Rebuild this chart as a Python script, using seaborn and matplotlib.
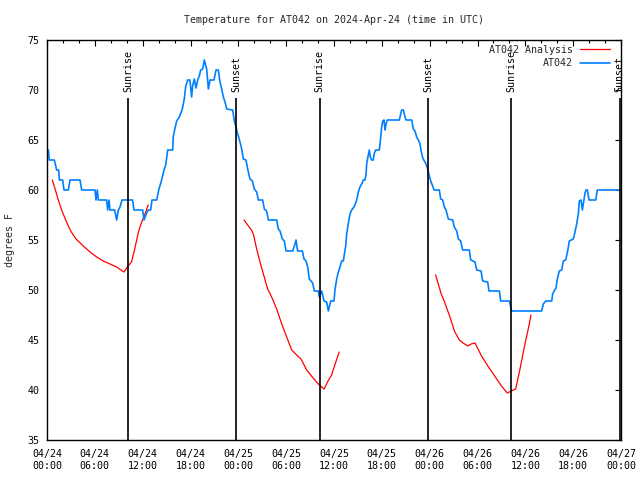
import numpy as np
import pandas as pd
import matplotlib
matplotlib.use("Agg")
import matplotlib.pyplot as plt
import matplotlib.dates as mdates
from matplotlib.lines import Line2D
import seaborn as sns

# ---------------- data ----------------
start = pd.Timestamp("2024-04-24 00:00")

obs_hours = [0.17, 0.29, 0.92, 1.21, 1.46, 1.55, 1.97, 2.13, 2.68, 2.89, 4.14, 4.35,
             6.02, 6.15, 6.31, 6.44, 7.48, 7.61, 7.78, 7.9, 8.49, 8.74, 8.95, 9.16,
             9.41, 10.74, 10.91, 12.0, 12.17, 12.5, 12.71, 13.0, 13.17, 13.76, 14.01,
             14.38, 14.68, 14.89, 15.14, 15.76, 15.85, 16.06, 16.27, 16.6, 16.97,
             17.22, 17.39, 17.63, 17.93, 18.14, 18.27, 18.48, 18.69, 18.9, 19.1,
             19.28, 19.53, 19.73, 20.03, 20.24, 20.45, 20.95, 21.2, 21.49, 21.7,
             21.91, 22.12, 22.33, 22.54, 23.29, 23.5, 23.71, 23.85, 24.0, 24.21,
             24.42, 24.63, 24.96, 25.17, 25.46, 25.76, 26.0, 26.3, 26.51, 27.05,
             27.26, 27.55, 27.76, 28.81, 29.02, 29.23, 29.52, 29.77, 29.98, 30.82,
             31.11, 31.23, 31.44, 32.03, 32.24, 32.49, 32.7, 32.9, 33.12, 33.33,
             33.53, 34.03, 34.16, 34.46, 34.75, 35.08, 35.29, 35.59, 36.0, 36.13,
             36.34, 36.54, 36.75, 36.97, 37.17, 37.3, 37.47, 37.59, 37.72, 37.88,
             38.09, 38.3, 38.51, 38.76, 38.93, 39.05, 39.26, 39.47, 39.68, 39.89,
             40.02, 40.1, 40.23, 40.43, 40.56, 40.73, 40.93, 41.06, 41.23, 41.69,
             41.77, 41.9, 41.98, 42.11, 42.27, 42.4, 42.52, 42.69, 44.19, 44.37,
             44.49, 44.7, 44.91, 45.03, 45.75, 45.95, 46.16, 46.37, 46.58, 46.79,
             46.91, 47.13, 47.33, 47.54, 47.75, 47.96, 48.17, 48.38, 48.54, 49.21,
             49.38, 49.63, 49.84, 50.05, 50.34, 50.89, 51.09, 51.39, 51.6, 51.89,
             52.14, 52.97, 53.15, 53.69, 53.9, 54.44, 54.65, 55.28, 55.44, 56.74,
             56.91, 57.99, 58.17, 58.29, 62.05, 62.26, 62.56, 63.31, 63.43, 63.6,
             63.85, 64.01, 64.26, 64.56, 64.77, 65.06, 65.31, 65.52, 66.02, 66.23,
             66.44, 66.65, 66.77, 66.98, 67.15, 67.27, 67.49, 67.61, 67.78, 67.99,
             68.83, 69.03, 71.75]
obs_temps = [64, 63, 63, 62, 62, 61, 61, 60, 60, 61, 61, 60,
             60, 59, 60, 59, 59, 58, 59, 58, 58, 57, 58, 58.3,
             59, 59, 58, 58, 57, 57.7, 58, 58, 59, 59, 60,
             61, 62, 62.5, 64, 64, 65.4, 66.2, 66.9, 67.3, 68.1,
             69.1, 70.3, 71, 71, 69.3, 70.4, 71.1, 70.2, 71, 71.4,
             72, 72.1, 73, 72.1, 70.1, 71, 71, 72, 72, 70.8,
             70.1, 69.3, 68.8, 68.1, 68, 66.9, 66.3, 65.8, 65.4, 64.8,
             64.1, 63.1, 63, 62.1, 61.1, 60.9, 60.1, 59.8, 59, 59,
             58.1, 57.9, 57, 57, 56.1, 55.9, 55.1, 54.9, 53.9, 53.9,
             54.6, 55, 53.9, 53.9, 53.1, 52.9, 52.3, 51.1, 50.9, 50.7,
             49.9, 49.9, 49.3, 49.9, 48.9, 48.8, 47.9, 48.9, 48.9, 50.1,
             51.1, 51.8, 52.3, 52.9, 52.9, 53.6, 54.4, 55.6, 56.3, 57.1,
             57.8, 58.1, 58.3, 58.8, 59.3, 59.8, 60.3, 60.6, 61, 61,
             61.6, 62.6, 63.2, 64, 63.3, 63, 63, 63.7, 64, 64,
             64.6, 65.6, 66.3, 66.9, 67, 66, 66.6, 67, 67, 67.6,
             68, 68, 67.3, 67, 67, 66.1, 65.9, 65.3, 65, 64.6,
             64, 63.2, 62.9, 62.6, 62.1, 61.4, 60.8, 60.4, 60, 60,
             59.1, 59, 58.3, 58, 57.1, 57, 56.3, 55.9, 55.1, 54.9,
             54, 54, 53, 52.8, 52, 51.9, 50.9, 50.8, 49.9, 49.9,
             48.9, 48.9, 48.3, 47.9, 47.9, 48.6, 48.9, 48.9, 49.6, 49.9,
             50.2, 51.1, 51.9, 52, 52.9, 53, 53.9, 54.9, 55.1, 55.8,
             56.6, 57.6, 58.9, 59, 58, 58.6, 59.7, 60, 60, 59,
             59, 60, 60]

ana1_hours = [0.67, 1.09, 1.5, 1.84, 2.34, 2.97, 3.64, 4.55, 5.4, 6.23, 7.06, 7.9,
              8.73, 9.65, 10.07, 10.6, 11.0, 11.5, 11.87, 12.15, 12.7]
ana1_temps = [61, 59.9, 58.8, 58, 57.0, 55.9, 55.1, 54.4, 53.8, 53.3, 52.9, 52.6,
              52.3, 51.8, 52.3, 52.8, 54.1, 55.9, 56.8, 57.3, 58.5]
ana2_hours = [24.72, 25.17, 25.65, 25.88, 26.3, 26.72, 27.14, 27.68, 28.18, 28.81,
              29.44, 30.07, 30.69, 31.19, 31.86, 32.57, 33.28, 34.03, 34.75, 35.25,
              35.7, 36.1, 36.65]
ana2_temps = [57, 56.5, 56, 55.6, 54.1, 52.8, 51.6, 50.1, 49.3, 48.1,
              46.6, 45.3, 44, 43.6, 43.1, 42, 41.3, 40.6, 40.1, 40.9,
              41.5, 42.5, 43.8]
ana3_hours = [48.75, 49.45, 49.87, 50.5, 51.1, 51.72, 52.2, 52.77, 53.2, 53.69,
              54.5, 55.3, 56.15, 57.0, 57.74, 58.25, 58.79, 59.33, 59.9, 60.5, 60.7]
ana3_temps = [51.5, 49.6, 48.8, 47.4, 45.9, 45, 44.7, 44.4, 44.6, 44.7,
              43.4, 42.4, 41.4, 40.4, 39.7, 39.9, 40.1, 42.1, 44.4, 46.6, 47.5]

event_names = ["Sunrise", "Sunset", "Sunrise", "Sunset", "Sunrise", "Sunset"]
event_hours = [10.2, 23.77, 34.2, 47.8, 58.2, 71.85]

y_ticks = [35, 40, 45, 50, 55, 60, 65, 70, 75]

series_names = ["AT042 Analysis", "AT042"]
series_colors = ["#ff0000", "#0080ff"]

# ---------------- figure ----------------
sns.set_style("white")
plt.rcParams["font.family"] = ["DejaVu Sans Mono"]
FS = 7.2

def to_time(h):
    return start + pd.to_timedelta(np.asarray(h, dtype=float), unit="h")

obs_df = pd.DataFrame({"time": to_time(obs_hours), "temp": obs_temps})
ana_df = pd.concat([
    pd.DataFrame({"time": to_time(h), "temp": t, "seg": i})
    for i, (h, t) in enumerate([(ana1_hours, ana1_temps),
                                 (ana2_hours, ana2_temps),
                                 (ana3_hours, ana3_temps)])
], ignore_index=True)

fig = plt.figure(figsize=(6.4, 4.8), dpi=100)
ax = fig.add_axes([47 / 640, 1 - 440 / 480, 574 / 640, 400 / 480])

sns.lineplot(data=ana_df, x="time", y="temp", units="seg", estimator=None,
             color=series_colors[0], lw=0.9, ax=ax, legend=False)
sns.lineplot(data=obs_df, x="time", y="temp", estimator=None,
             color=series_colors[1], lw=1.2, ax=ax, legend=False)

ev_times = to_time(event_hours)
ax.vlines(ev_times, 35, 69.15, color="black", lw=1.2, zorder=3)
for t, name in zip(ev_times, event_names):
    ax.text(t, 69.75, name, rotation=90, ha="center", va="bottom",
            fontsize=FS, color="black", clip_on=False)

ax.set_xlim(start, start + pd.Timedelta(hours=72))
ax.set_ylim(35, 75)
ax.set_yticks(y_ticks)
ax.xaxis.set_major_locator(mdates.HourLocator(byhour=[0, 6, 12, 18]))
ax.xaxis.set_minor_locator(mdates.HourLocator(byhour=list(range(0, 24, 2))))
ax.xaxis.set_major_formatter(mdates.DateFormatter("%m/%d\n%H:%M"))

ax.tick_params(which="both", direction="in", top=True, right=True,
               colors="black", labelsize=FS)
ax.tick_params(which="major", length=4.5, width=0.8)
ax.tick_params(which="minor", length=2.5, width=0.8)
ax.tick_params(axis="x", which="major", pad=6.5)
ax.tick_params(axis="y", which="major", pad=5.5)
for sp in ax.spines.values():
    sp.set_color("black")
    sp.set_linewidth(1.0)
    sp.set_visible(True)

ax.set_xlabel("")
ax.set_ylabel("degrees F", fontsize=FS)
ax.yaxis.set_label_coords(-0.056, 0.5)

fig.text(334 / 640, 1 - 20 / 480,
         "Temperature for AT042 on 2024-Apr-24 (time in UTC)",
         ha="center", va="center", fontsize=FS)

handles = [Line2D([], [], color=series_colors[0], lw=0.9),
           Line2D([], [], color=series_colors[1], lw=1.2)]
ax.legend(handles, series_names, loc="upper right",
          bbox_to_anchor=((610 - 47) / 574, 1 - 5 / 400),
          frameon=False, markerfirst=False, fontsize=FS, handlelength=3.0,
          handletextpad=0.7, labelspacing=0.35, borderaxespad=0, borderpad=0)

fig.savefig("out.png", dpi=100)
